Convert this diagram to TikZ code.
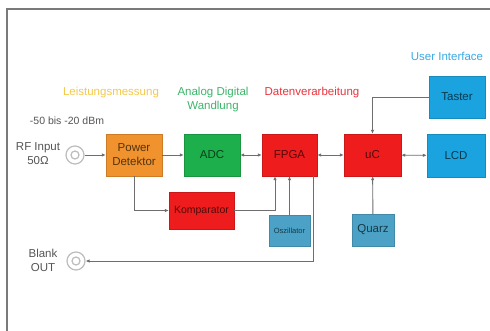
\documentclass[tikz,border=0pt]{standalone}
\usepackage{fontspec}
\setmainfont{Liberation Sans}
\usetikzlibrary{arrows.meta}

\definecolor{boxorange}{HTML}{F0922E}
\definecolor{boxgreen}{HTML}{1DAF4B}
\definecolor{boxred}{HTML}{EE1C1C}
\definecolor{boxblue}{HTML}{1AA3DF}
\definecolor{boxsteel}{HTML}{4BA2C6}
\definecolor{lblyellow}{HTML}{F4C94A}
\definecolor{lblgreen}{HTML}{3DB56A}
\definecolor{lblred}{HTML}{E8333C}
\definecolor{lblblue}{HTML}{3AAAE2}
\definecolor{linegray}{HTML}{6E6E6E}
\definecolor{jackgray}{HTML}{BDBDBD}
\definecolor{textgray}{HTML}{555555}
\definecolor{framegray}{HTML}{7A7A7A}

\begin{document}
\begin{tikzpicture}[x=1pt, y=-1pt, font=\fontsize{11.5}{14}\selectfont,
    block/.style={draw=#1!85!black, fill=#1, text=#1!35!black, align=center, inner sep=1pt},
    conn/.style={draw=linegray, line width=0.9pt, -{Latex[length=4pt,width=3.5pt]}},
    conntwo/.style={conn, {Latex[length=4pt,width=3.5pt]}-{Latex[length=4pt,width=3.5pt]}},
    jack/.style={circle, draw=jackgray, line width=1.2pt, minimum size=18pt, inner sep=0pt,
      path picture={\draw[jackgray, line width=1.2pt] (path picture bounding box.center) circle (4pt);}}]
        % Define the page and its frame
        \useasboundingbox (0,0) rectangle (490,331);
        \fill[white] (0,0) rectangle (490,331);
        \draw[framegray, line width=1.5pt] (7,331) -- (7,9) -- (490,9);

        % Draw the group labels
        \node[text=lblyellow] (lblleist) at (111,93) {Leistungsmessung};
        \node[text=lblgreen, align=center] (lbladc) at (213,100) {Analog Digital\\Wandlung};
        \node[text=lblred] (lbldaten) at (312,93) {Datenverarbeitung};
        \node[text=lblblue] (lblui) at (447,56) {User Interface};

        % Draw the input and output jacks
        \node[jack] (rfin) at (75,155) {};
        \node[jack] (blank) at (76,261) {};
        \node[text=textgray, font=\fontsize{10.5}{12}\selectfont] (level) at (67,121) {-50 bis -20 dBm};
        \node[text=textgray, align=center] (rflabel) at (38,153.5) {RF Input\\50Ω};
        \node[text=textgray, align=center] (blanklabel) at (43,260) {Blank\\OUT};

        % Draw the main chain
        \node[block=boxorange, minimum width=56pt, minimum height=42pt] (power) at (134,155) {Power\\Detektor};
        \node[block=boxgreen, minimum width=56pt, minimum height=42pt] (adc) at (212,155) {ADC};
        \node[block=boxred, minimum width=55pt, minimum height=42pt] (fpga) at (289.5,155) {FPGA};
        \node[block=boxred, minimum width=57pt, minimum height=42pt] (uc) at (372.5,155) {uC};
        \node[block=boxblue, minimum width=58pt, minimum height=43pt] (lcd) at (456,155.5) {LCD};
        \node[block=boxblue, minimum width=56pt, minimum height=42pt] (taster) at (457,97) {Taster};

        % Draw the side blocks
        \node[block=boxred, minimum width=65pt, minimum height=37pt, font=\fontsize{10.5}{12}\selectfont] (komp) at (201.5,210.5) {Komparator};
        \node[block=boxsteel, minimum width=41pt, minimum height=31pt, font=\fontsize{7.5}{9}\selectfont] (osz) at (289.5,230.5) {Oszillator};
        \node[block=boxsteel, minimum width=42pt, minimum height=32pt] (quarz) at (373,230) {Quarz};

        % Draw the connections
        \draw[conn] (rfin) -- (power);
        \draw[conn] (power) -- (adc);
        \draw[conntwo] (adc) -- (fpga);
        \draw[conntwo] (fpga) -- (uc);
        \draw[conntwo] (uc) -- (lcd);
        \draw[conn] (taster.west) -| (uc.north);
        \draw[conn] (quarz) -- (uc);
        \draw[conn] (power.south) |- (komp.west);
        \draw[conn] (komp.east) -| ([xshift=-14.5pt]fpga.south);
        \draw[conn] (osz) -- (fpga);
        \draw[conn] ([xshift=23.5pt]fpga.south) |- (blank);
      \end{tikzpicture}
\end{document}
